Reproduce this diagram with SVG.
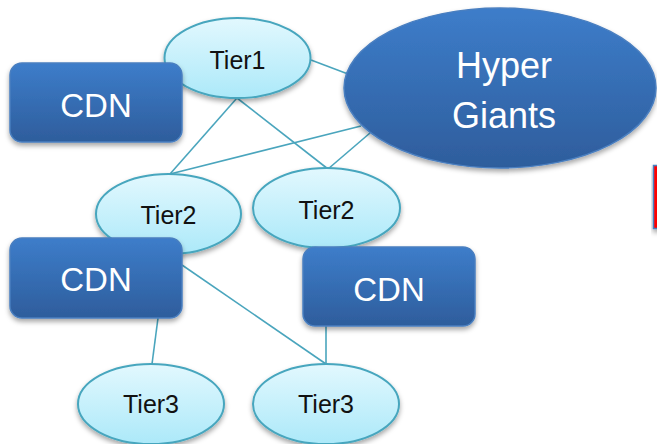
<svg xmlns="http://www.w3.org/2000/svg" width="657" height="444" viewBox="0 0 657 444">
<defs>
<linearGradient id="gEll" x1="0" y1="0" x2="0" y2="1">
<stop offset="0" stop-color="#e2f8fe"/>
<stop offset="1" stop-color="#ace9f9"/>
</linearGradient>
<linearGradient id="gBlue" x1="0" y1="0" x2="0" y2="1">
<stop offset="0" stop-color="#3d7dca"/>
<stop offset="1" stop-color="#2e5d9c"/>
</linearGradient>
<filter id="sh" x="-20%" y="-20%" width="140%" height="150%">
<feDropShadow dx="0" dy="3" stdDeviation="2.5" flood-color="#000" flood-opacity="0.35"/>
</filter>
<style>
.ell{fill:url(#gEll);stroke:#47a6be;stroke-width:2;filter:url(#sh)}
.box{fill:url(#gBlue);stroke:#4a7fc0;stroke-width:1.5;filter:url(#sh)}
.con line{stroke:#4aa5bd;stroke-width:1.6}
.t{font-family:"Liberation Sans",Arial,sans-serif;font-size:25px;fill:#111;text-anchor:middle}
.w{font-family:"Liberation Sans",Arial,sans-serif;font-size:33px;fill:#fff;text-anchor:middle}
.hg{font-size:36px}
</style>
</defs>
<rect width="657" height="444" fill="#fff"/>
<g id="connectors" class="con">
<line x1="237" y1="98" x2="170" y2="174"/>
<line x1="237" y1="98" x2="328" y2="169"/>
<line x1="311" y1="60" x2="348" y2="74"/>
<line x1="170" y1="174" x2="361" y2="126"/>
<line x1="328" y1="169" x2="370" y2="133"/>
<line x1="158" y1="318" x2="152" y2="364"/>
<line x1="182" y1="265" x2="326" y2="364"/>
<line x1="326" y1="326" x2="326" y2="364"/>
</g>
<g id="hypergiants">
<ellipse cx="500" cy="88" rx="156" ry="80" class="box"/>
<text x="504" y="78" class="w hg">Hyper</text>
<text x="504" y="128" class="w hg">Giants</text>
</g>
<g id="tier1">
<ellipse cx="237.5" cy="58" rx="73" ry="40" class="ell"/>
<text x="237.5" y="69" class="t">Tier1</text>
</g>
<g id="tier2a">
<ellipse cx="168.5" cy="214" rx="72.5" ry="40" class="ell"/>
<text x="168.5" y="224" class="t">Tier2</text>
</g>
<g id="tier2b">
<ellipse cx="326.5" cy="208" rx="73.5" ry="40" class="ell"/>
<text x="326.5" y="219" class="t">Tier2</text>
</g>
<g id="tier3a">
<ellipse cx="151" cy="404" rx="73" ry="40" class="ell"/>
<text x="151" y="413" class="t">Tier3</text>
</g>
<g id="tier3b">
<ellipse cx="326" cy="404" rx="73" ry="40" class="ell"/>
<text x="326" y="413" class="t">Tier3</text>
</g>
<g id="cdn1">
<rect x="10" y="63" width="172" height="79" rx="12" class="box"/>
<text x="96" y="117" class="w">CDN</text>
</g>
<g id="cdn2">
<rect x="10" y="238" width="172" height="80" rx="12" class="box"/>
<text x="96" y="291" class="w">CDN</text>
</g>
<g id="cdn3">
<rect x="303" y="247" width="172" height="79" rx="12" class="box"/>
<text x="389" y="301" class="w">CDN</text>
</g>
<g id="edgebox">
<rect x="653.5" y="165.5" width="12" height="63" fill="#ff0000" stroke="#4a7fc0" stroke-width="1.5" filter="url(#sh)"/>
</g>
</svg>
